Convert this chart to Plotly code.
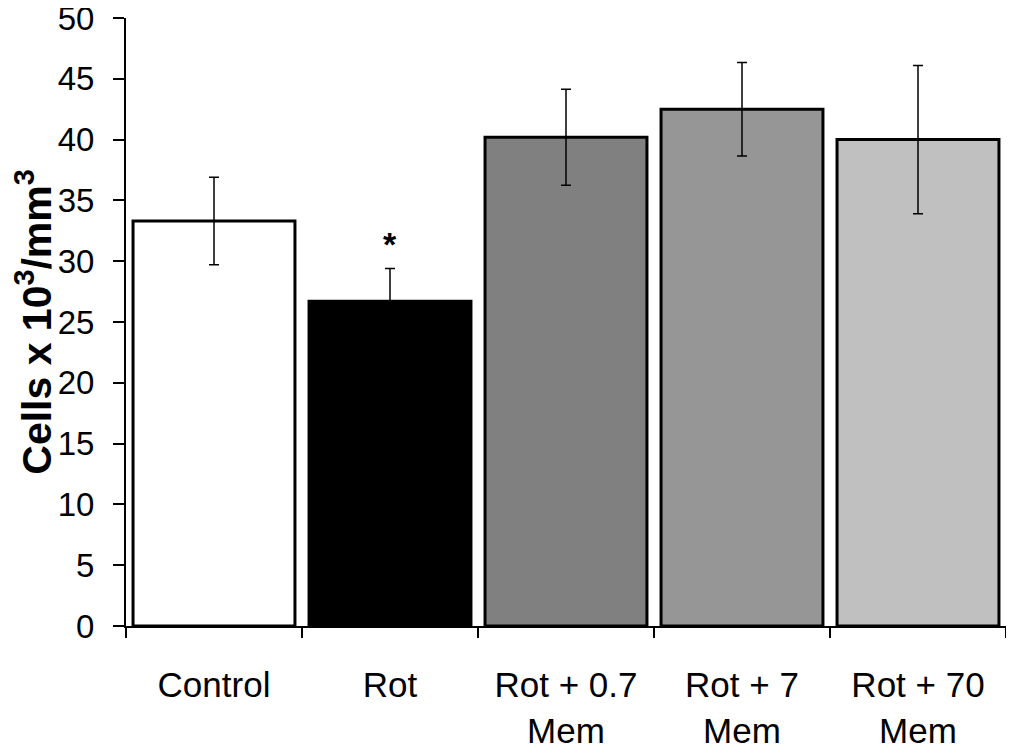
import plotly.graph_objects as go

categories = ["Control", "Rot", "Rot + 0.7<br>Mem", "Rot + 7<br>Mem", "Rot + 70<br>Mem"]
values = [33.3, 26.7, 40.2, 42.5, 40.0]
errors = [3.6, 2.7, 3.95, 3.85, 6.1]
colors = ["#ffffff", "#000000", "#808080", "#969696", "#c0c0c0"]
yticks = [0, 5, 10, 15, 20, 25, 30, 35, 40, 45, 50]

FONT = "Arial, Liberation Sans, sans-serif"

fig = go.Figure()
fig.add_trace(go.Bar(
    x=categories, y=values,
    marker=dict(color=colors, line=dict(color="black", width=3)),
    error_y=dict(type="data", array=errors, visible=True, color="black",
                 thickness=1.5, width=5),
    width=0.92,
))
fig.add_annotation(x=categories[1], y=values[1] + errors[1] + 2.0, text="<b>*</b>",
                   showarrow=False, font=dict(size=34, color="black", family=FONT),
                   yanchor="middle")

fig.update_layout(
    width=1006, height=744,
    margin=dict(l=118, r=8, t=10, b=126),
    paper_bgcolor="white", plot_bgcolor="white",
    showlegend=False,
    font=dict(family=FONT, color="black", size=34),
)
fig.update_xaxes(
    automargin=False,
    showline=True, linecolor="black", linewidth=2,
    ticks="outside", tickson="boundaries", ticklen=10, tickwidth=2, tickcolor="black",
    tickfont=dict(size=35, family=FONT), ticklabelstandoff=27,
    showgrid=False,
)
fig.update_yaxes(
    automargin=False,
    range=[0, 50], tickvals=yticks,
    showline=True, linecolor="black", linewidth=2,
    ticks="outside", ticklen=11, tickwidth=2, tickcolor="black",
    tickfont=dict(size=33, family=FONT), ticklabelstandoff=12,
    ticklabeloverflow="allow",
    showgrid=False, zeroline=False,
    title=dict(text="<b>Cells x 10<sup>3</sup>/mm<sup>3</sup></b>",
               font=dict(size=41, family=FONT), standoff=2),
)

fig.write_html("out.html")
